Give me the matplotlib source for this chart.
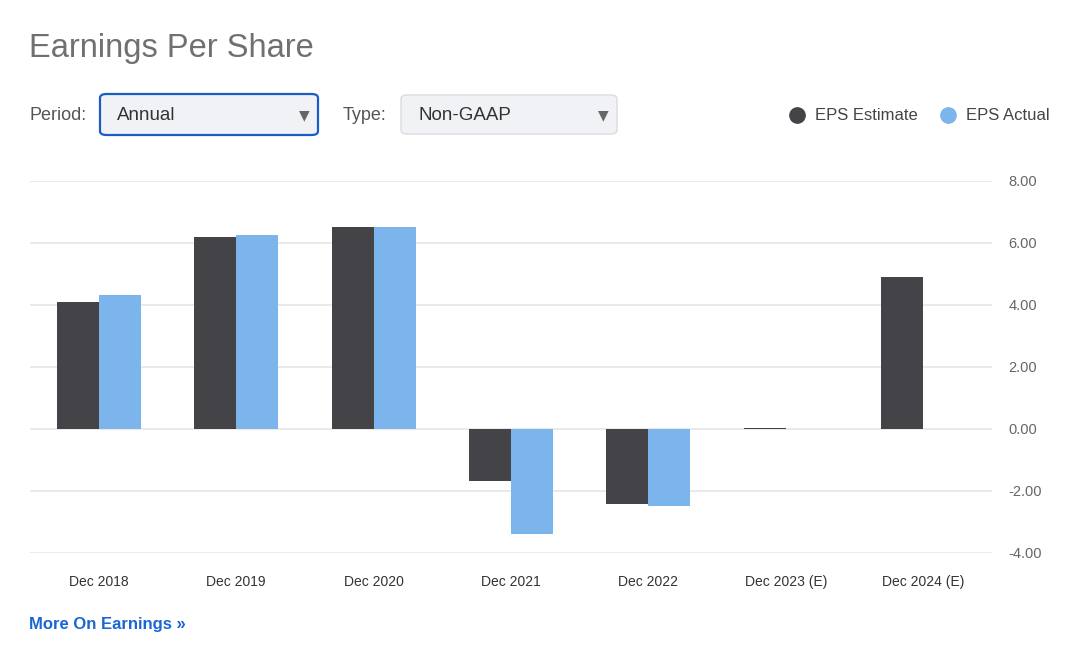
import matplotlib
matplotlib.use("Agg")
import matplotlib.pyplot as plt
from matplotlib.patches import FancyBboxPatch
import numpy as np

plt.rcParams['font.family'] = ['Liberation Sans', 'DejaVu Sans']

categories = ["Dec 2018", "Dec 2019", "Dec 2020", "Dec 2021", "Dec 2022", "Dec 2023 (E)", "Dec 2024 (E)"]
eps_estimate = [4.10, 6.19, 6.52, -1.68, -2.42, 0.03, 4.90]
eps_actual = [4.32, 6.26, 6.52, -3.39, -2.48, None, None]
yticks = [-4, -2, 0, 2, 4, 6, 8]

C_EST = "#434348"
C_ACT = "#7cb5ec"

W, H = 1081, 646
fig = plt.figure(figsize=(W / 100, H / 100), dpi=100)

def fx(px):
    return px / W

def fy(py):
    return 1 - py / H

ax = fig.add_axes([fx(30), fy(553), fx(992 - 30), fy(181) - fy(553)])
x = np.arange(len(categories))
bw = 0.306
ax.bar(x - bw / 2, eps_estimate, width=bw, color=C_EST, zorder=3, linewidth=0)
act_vals = [np.nan if v is None else v for v in eps_actual]
ax.bar(x + bw / 2, act_vals, width=bw, color=C_ACT, zorder=3, linewidth=0)

ax.set_xlim(-0.5, len(categories) - 0.5)
ax.set_ylim(-4, 8)
ax.set_yticks(yticks)
ax.yaxis.tick_right()
ax.set_yticklabels([f"{v:.2f}" for v in yticks])
ax.yaxis.grid(True, color="#e6e6e6", linewidth=1.2, zorder=0)
ax.set_axisbelow(True)
for s in ax.spines.values():
    s.set_visible(False)
ax.tick_params(axis='y', length=0, pad=12, labelsize=10.5, labelcolor="#666666")
ax.set_xticks(x)
ax.set_xticklabels(categories)
ax.tick_params(axis='x', length=0, pad=15.5, labelsize=10, labelcolor="#333333")

# Title
fig.text(fx(29), fy(48), "Earnings Per Share", fontsize=23.5, color="#707070", va="center", ha="left")

# Controls
fig.text(fx(30), fy(116), "Period:", fontsize=13, color="#555555", va="center", ha="left")
fig.text(fx(343), fy(116), "Type:", fontsize=13, color="#555555", va="center", ha="left")

box1 = FancyBboxPatch((fx(100), fy(135)), fx(318 - 100), fy(94) - fy(135),
                      boxstyle="round,pad=0,rounding_size=0.006", transform=fig.transFigure,
                      facecolor="#f1f2f6", edgecolor="#1a5cc8", linewidth=1.6)
fig.add_artist(box1)
box2 = FancyBboxPatch((fx(401), fy(134)), fx(617 - 401), fy(95) - fy(134),
                      boxstyle="round,pad=0,rounding_size=0.006", transform=fig.transFigure,
                      facecolor="#f1f2f6", edgecolor="#dcdcdc", linewidth=1.0)
fig.add_artist(box2)
fig.text(fx(117), fy(116), "Annual", fontsize=13.5, color="#333333", va="center", ha="left")
fig.text(fx(418), fy(116), "Non-GAAP", fontsize=13.5, color="#333333", va="center", ha="left")
fig.text(fx(304), fy(115), "▼", fontsize=10, color="#666666", va="center", ha="center", family="DejaVu Sans")
fig.text(fx(603), fy(115), "▼", fontsize=10, color="#666666", va="center", ha="center", family="DejaVu Sans")

# Legend
fig.add_artist(plt.Line2D([fx(797)], [fy(115)], marker='o', markersize=11, color=C_EST,
                          transform=fig.transFigure, linestyle='none'))
fig.text(fx(815), fy(116), "EPS Estimate", fontsize=12, color="#444444", va="center", ha="left")
fig.add_artist(plt.Line2D([fx(948)], [fy(115)], marker='o', markersize=11, color=C_ACT,
                          transform=fig.transFigure, linestyle='none'))
fig.text(fx(966), fy(116), "EPS Actual", fontsize=12, color="#444444", va="center", ha="left")

# Link
fig.text(fx(29), fy(624), "More On Earnings »", fontsize=12, color="#1a66d2", fontweight="bold",
         va="center", ha="left")

fig.savefig("out.png", dpi=100)
